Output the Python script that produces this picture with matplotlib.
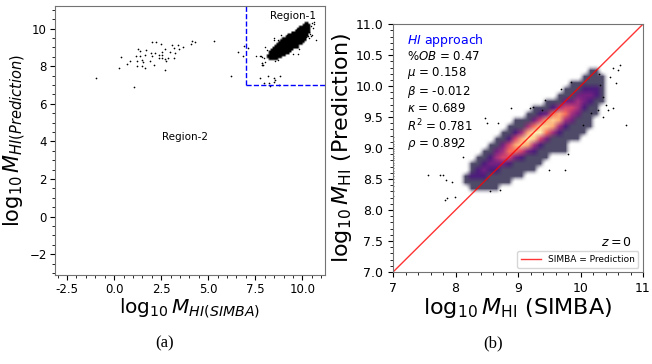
import numpy as np
import matplotlib
matplotlib.use("Agg")
import matplotlib.pyplot as plt
from matplotlib.ticker import MultipleLocator

# ---- data ----
# density levels of the main cloud (region 1), cells of 0.1 dex
# columns: x = 8.0 ... 10.7, rows from top (y = 10.4) to bottom (y = 8.2)
grid_x0, grid_y0, cell = 8.0, 8.2, 0.1
density_rows = [
    "000000000000000000000000000",
    "000000000000000000000110000",
    "000000000000000000001111000",
    "000000000000000000111111000",
    "000000000000000001112221000",
    "000000000000000011133321000",
    "000000000000001113343211000",
    "000000000000111245542110000",
    "000000000001123676431110000",
    "000000000111357874311100000",
    "000000001114688742111100000",
    "000000011247996421111000000",
    "000000112579853111110000000",
    "000001135787421111000000000",
    "000011346653211111000000000",
    "000112455321111000000000000",
    "001123332111110000000000000",
    "001232211111100000000000000",
    "012221111110000000000000000",
    "011111111000000000000000000",
    "001111100000000000000000000",
    "000000000000000000000000000",
]

# sparse points around the cloud
out_x = [7.56, 7.83, 7.99, 8.04, 8.12, 7.85, 7.75, 8.47, 8.89, 8.55, 9.5, 9.75, 9.8,
         10.36, 10.52, 10.73, 10.63, 10.52, 10.44, 10.36, 10.47, 10.3, 10.57, 7.8,
         7.94, 7.86, 8.71, 10.6, 10.31, 10.41, 10.17, 10.04, 10.28, 9.69, 9.43, 9.38,
         9.19, 8.5, 8.68, 9.24, 9.85]
out_y = [8.56, 8.17, 8.21, 9.02, 8.86, 8.48, 8.56, 9.48, 9.64, 8.30, 8.65, 8.65, 8.91,
         9.83, 9.64, 9.37, 10.34, 10.29, 9.61, 9.5, 10.15, 10.2, 10.05, 8.56,
         8.46, 8.19, 8.32, 10.26, 10.02, 9.69, 9.56, 9.37, 9.61, 9.96, 9.77, 9.61,
         9.64, 9.40, 9.40, 9.67, 10.07]

# points sitting on the left edge of panel (b)
edge_y = [8.22, 8.30, 8.38, 8.45, 8.50, 8.55, 8.60, 8.63, 8.68, 8.72, 8.76, 8.80,
          8.84, 8.88, 8.92, 8.95, 8.99, 9.03, 9.07, 9.12, 9.18]

# region 2 points (panel a)
reg2_x = [-0.96, 1.06, 0.25, 0.37, 0.68, 0.85, 1.17, 1.29, 1.35, 1.38, 1.24, 1.47, 1.65,
          1.2, 1.47, 1.65, 1.70, 1.56, 1.91, 2.0, 1.95, 2.0, 2.22, 2.18, 2.14, 2.36,
          2.38, 2.5, 2.54, 2.55, 2.55, 2.68, 2.71, 2.75, 2.71, 2.84, 2.98, 3.07, 3.16,
          3.21, 3.19, 3.37, 3.42, 3.65, 4.08, 4.13, 4.31, 5.32, 6.19, 6.58, 6.84, 6.91]
reg2_y = [7.37, 6.87, 7.88, 8.51, 8.13, 8.26, 8.52, 8.93, 8.79, 8.56, 7.99, 7.99, 7.90,
          8.26, 8.35, 8.58, 8.84, 8.22, 8.26, 8.52, 8.72, 9.27, 9.27, 8.72, 8.08, 8.58,
          8.44, 9.18, 8.76, 8.58, 8.44, 8.93, 8.38, 8.26, 7.78, 8.44, 8.74, 9.11, 8.97,
          8.70, 8.44, 9.15, 8.93, 9.00, 9.18, 9.32, 9.29, 9.36, 7.46, 8.76, 8.52, 9.06]

# low points of region 1 seen only in panel a
low_x = [7.94, 8.21, 8.3, 8.74, 8.47, 7.77, 7.09, 7.86, 7.93, 8.2, 8.47, 8.8, 8.56]
low_y = [7.1, 7.1, 6.95, 7.01, 7.37, 7.37, 8.97, 8.04, 8.08, 7.46, 7.16, 7.49, 7.28]

threshold = 7.0
stats_text = ["$\\%OB$ = 0.47", "$\\mu$ = 0.158", "$\\beta$ = -0.012",
              "$\\kappa$ = 0.689", "$R^2$ = 0.781", "$\\rho$ = 0.892"]

# ---- density grid -> rgba images ----
dens = np.array([[int(ch) for ch in row] for row in density_rows])
ny, nx = dens.shape
extent = (grid_x0, grid_x0 + nx * cell, grid_y0, grid_y0 + ny * cell)

mag = plt.get_cmap("magma")
levels_pos = [0.0, 0.1, 0.22, 0.34, 0.46, 0.58, 0.7, 0.82, 0.9, 0.97]
lut = np.array([mag(p) for p in levels_pos])
lut[0] = (1, 1, 1, 0)
lut[1, 3] = 0.75
lut[2, 3] = 0.95
img_b = lut[dens]

img_a = np.zeros((ny, nx, 4))
img_a[..., 3] = np.where(dens > 0, 1.0, 0.0)

fig = plt.figure(figsize=(6.52, 3.64), dpi=100)

# ---- panel (a) ----
ax1 = fig.add_axes([0.0844, 0.2445, 0.414, 0.739])
ax1.imshow(img_a, extent=extent, origin="upper", aspect="auto", interpolation="bilinear")
ax1.scatter(out_x, out_y, s=1.2, c="black", lw=0)
ax1.scatter(reg2_x, reg2_y, s=1.5, c="black", lw=0)
ax1.scatter(low_x, low_y, s=1.5, c="black", lw=0)
ax1.set_xlim(-3.14, 11.2)
ax1.set_ylim(-3.1, 11.2)
ax1.plot([threshold, threshold], [threshold, 11.2], "--", color="blue", lw=1)
ax1.plot([threshold, 11.2], [threshold, threshold], "--", color="blue", lw=1)
ax1.text(9.5, 10.69, "Region-1", fontsize=7.5, ha="center", va="center")
ax1.text(3.78, 4.24, "Region-2", fontsize=7.5, ha="center", va="center")
ax1.xaxis.set_major_locator(MultipleLocator(2.5))
ax1.xaxis.set_major_formatter(plt.FormatStrFormatter("%.1f"))
ax1.minorticks_on()
ax1.tick_params(labelsize=8.5, pad=2.5)
ax1.set_xlabel(r"$\log_{10}M_{HI(SIMBA)}$", fontsize=14.5, labelpad=0)
ax1.set_ylabel(r"$\log_{10}M_{HI(Prediction)}$", fontsize=15, labelpad=1)
for s in ax1.spines.values():
    s.set_edgecolor("0.45")

# ---- panel (b) ----
ax2 = fig.add_axes([0.6028, 0.2527, 0.3834, 0.681])
ax2.imshow(img_b, extent=extent, origin="upper", aspect="auto", interpolation="bilinear")
ax2.scatter(out_x, out_y, s=1.5, c="black", lw=0)
ax2.scatter(np.full(len(edge_y), 7.0), edge_y, s=1.5, c="black", lw=0)
ax2.plot([7, 11], [7, 11], color="red", lw=1, alpha=0.8, label="SIMBA = Prediction")
ax2.set_xlim(7, 11)
ax2.set_ylim(7, 11)
ax2.set_xticks([7, 8, 9, 10, 11])
ax2.set_yticks(np.arange(7, 11.01, 0.5))
ax2.minorticks_on()
ax2.tick_params(labelsize=9)
ax2.text(0.056, 0.968, "$HI$ approach", color="blue", fontsize=9,
         transform=ax2.transAxes, va="top")
ax2.text(0.056, 0.895, "\n".join(stats_text), fontsize=8.5, linespacing=1.2,
         transform=ax2.transAxes, va="top")
ax2.text(0.955, 0.12, "$z = 0$", fontsize=9, transform=ax2.transAxes,
         ha="right", va="center")
ax2.legend(loc="lower right", fontsize=6.5, borderpad=0.4, handlelength=2.2)
ax2.set_xlabel(r"$\log_{10}M_{\rm HI}$ (SIMBA)", fontsize=16, labelpad=1)
ax2.set_ylabel(r"$\log_{10}M_{\rm HI}$ (Prediction)", fontsize=16, labelpad=1)
for s in ax2.spines.values():
    s.set_edgecolor("0.45")

fig.text(0.253, 0.045, "(a)", fontsize=12, family="Liberation Serif", ha="center")
fig.text(0.756, 0.045, "(b)", fontsize=12, family="Liberation Serif", ha="center")

fig.savefig("out.png", dpi=100)
